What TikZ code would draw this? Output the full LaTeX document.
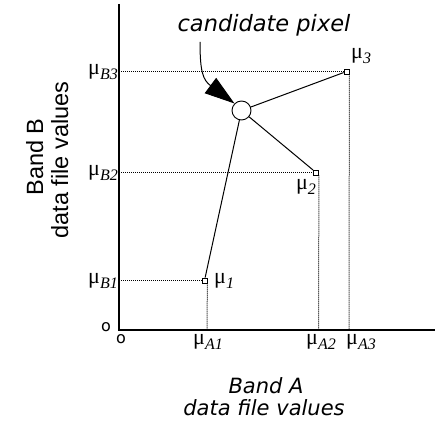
\documentclass[tikz,border=0pt]{standalone}
\usepackage{fontspec}
\usetikzlibrary{arrows.meta}
\newfontfamily\labfont{DejaVu Sans}
\newfontfamily\sidefont{Liberation Sans}
\newfontfamily\mufont{Liberation Serif}
\newcommand\mulab[1]{{\mufont\fontsize{22}{22}\selectfont μ\raisebox{-5pt}{\fontsize{16}{16}\selectfont\itshape #1}}}
\tikzset{
  axisline/.style={line width=2.3pt},
  guide/.style={line width=1pt, densely dotted},
  spoke/.style={line width=1pt},
  meanmark/.style={draw, line width=0.8pt, minimum size=5pt, inner sep=0pt, rectangle},
  mulabel/.style={inner sep=0pt},
  bandlabel/.style={font=\labfont\itshape\fontsize{21}{21}\selectfont, inner sep=0pt},
  sidelabel/.style={font=\sidefont\fontsize{23.5}{23.5}\selectfont, inner sep=0pt},
}
\begin{document}
\begin{tikzpicture}[x=1pt,y=1pt]
\useasboundingbox (0,0) rectangle (435,425);
% axes
\coordinate (origin) at (119,95);
\coordinate (ytop) at (119,421);
\coordinate (xend) at (435,95);
\draw[axisline] (ytop) -- (origin) -- (xend);
% means
\node[meanmark] (m1) at (204.5,144.5) {};
\node[meanmark] (m2) at (316,252.5) {};
\node[meanmark] (m3) at (346.5,353.5) {};
% guide lines
\coordinate (b1) at (119,144.5);
\coordinate (b2) at (119,252.5);
\coordinate (b3) at (119,353.5);
\coordinate (a1) at (207,95);
\coordinate (a2) at (318.5,95);
\coordinate (a3) at (349,95);
\draw[guide] (b1) -- (m1.west);
\draw[guide] (b2) -- (m2.west);
\draw[guide] (b3) -- (m3.west);
\draw[guide] (m1.south east) -- (a1);
\draw[guide] (m2.south east) -- (a2);
\draw[guide] (m3.south east) -- (a3);
% candidate pixel
\node[draw, circle, line width=0.9pt, minimum size=19pt, inner sep=0pt, fill=white] (cand) at (241.5,314.5) {};
\draw[spoke] (cand) -- (m1);
\draw[spoke] (cand) -- (m2);
\draw[spoke] (cand) -- (m3);
\node[font=\labfont\itshape\fontsize{22.5}{22.5}\selectfont, inner sep=0pt, anchor=base] (ctext) at (264,393) {candidate pixel};
\coordinate (arrstart) at (200,383);
\draw[line width=1pt, -{Triangle[length=30pt,width=19pt]}] (arrstart) .. controls (200,353) and (203,345) .. (cand.135);
% mean labels
\node[mulabel, anchor=base east] (lb3) at (118,350) {\mulab{B3}};
\node[mulabel, anchor=base east] (lb2) at (118,249) {\mulab{B2}};
\node[mulabel, anchor=base east] (lb1) at (118,141) {\mulab{B1}};
\node[mulabel, anchor=base west] (l3) at (351,366) {\mulab{3}};
\node[mulabel, anchor=base east] (l2) at (316,235) {\mulab{2}};
\node[mulabel, anchor=base west] (l1) at (214,141) {\mulab{1}};
\node[mulabel, anchor=base west] (la1) at (193,81) {\mulab{A1}};
\node[mulabel, anchor=base west] (la2) at (306,81) {\mulab{A2}};
\node[mulabel, anchor=base west] (la3) at (346,81) {\mulab{A3}};
% origin labels
\node[font=\labfont\fontsize{16}{16}\selectfont, inner sep=0pt, anchor=base] (o1) at (106,94) {o};
\node[font=\labfont\fontsize{16}{16}\selectfont, inner sep=0pt, anchor=base] (o2) at (121,82) {o};
% band labels
\node[bandlabel, anchor=base] (bandA1) at (266,32) {Band A};
\node[bandlabel, anchor=base] (bandA2) at (264,10) {data file values};
\node[sidelabel, rotate=90, anchor=base] (bandB1) at (43,268) {Band B};
\node[sidelabel, rotate=90, anchor=base] (bandB2) at (68,265) {data file values};
\end{tikzpicture}
\end{document}
